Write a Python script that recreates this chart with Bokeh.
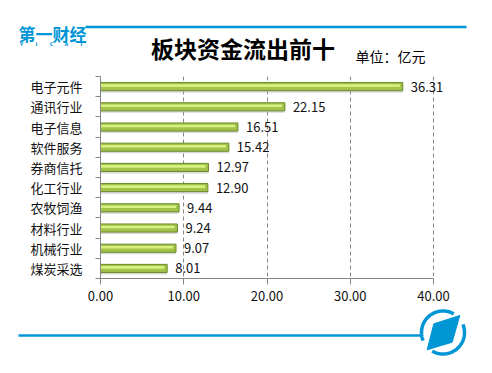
import numpy as np
from bokeh.plotting import figure
from bokeh.models import Range1d, FixedTicker, NumeralTickFormatter, ColumnDataSource
from bokeh.layouts import column
from bokeh.core.properties import value
from bokeh.embed import file_html
from bokeh.resources import INLINE

# ---- data ----
categories = ["电子元件", "通讯行业", "电子信息", "软件服务", "券商信托",
              "化工行业", "农牧饲渔", "材料行业", "机械行业", "煤炭采选"]
outflow = [36.31, 22.15, 16.51, 15.42, 12.97, 12.90, 9.44, 9.24, 9.07, 8.01]
x_ticks = [0, 10, 20, 30, 40]
title_text = "板块资金流出前十"
unit_text = "单位：亿元"
logo_text = "第一财经"
logo_letters = ["Y", "I", "C", "A", "I"]

FONT = "Noto Sans CJK SC"
BLUE = "#0096d6"
GREY = "#868686"
W = 484

# ---- header (page coordinates) ----
hdr = figure(width=W, height=73, x_range=Range1d(0, W), y_range=Range1d(73, 0),
             output_backend="svg", toolbar_location=None, min_border=0,
             x_axis_location=None, y_axis_location=None, frame_align=False)
hdr.outline_line_color = None
hdr.grid.visible = False
hdr.line([85, 466], [26.5, 26.5], line_color=BLUE, line_width=2.5)
hdr.text(x=[18], y=[33], text=[logo_text], text_font=value(FONT), text_font_size="17px",
         text_font_style="bold", text_color=BLUE, text_baseline="middle", text_align="left")
hdr.text(x=[21, 36, 51, 66, 81], y=[43.5] * 5, text=logo_letters,
         text_font=value("DejaVu Sans"), text_font_size="5px", text_font_style="bold",
         text_color=BLUE, text_baseline="middle", text_align="center")
hdr.text(x=[242.5], y=[47], text=[title_text], text_font=value(FONT), text_font_size="23px",
         text_font_style="bold", text_color="#000000", text_baseline="middle", text_align="center")
hdr.text(x=[355], y=[55.5], text=[unit_text], text_font=value(FONT), text_font_size="14px",
         text_color="#000000", text_baseline="middle", text_align="left")

# ---- main chart ----
n = len(categories)
ypos = [i + 0.5 for i in range(n)]
src = ColumnDataSource(dict(
    y=ypos, v=outflow, lab=["%.2f" % v for v in outflow],
    ys=[y + 0.09 for y in ypos],
    yh=[y - 0.05 for y in ypos],
    vh=[v - 0.35 for v in outflow],
))

left_border = 100
axis_px = 333.0           # pixels from 0 to 40
frame_px = W - left_border
x_end = x_ticks[-1] * frame_px / axis_px

p = figure(width=W, height=235, x_range=Range1d(0, x_end), y_range=Range1d(n, 0),
           output_backend="svg", toolbar_location=None, frame_align=False,
           min_border_left=left_border, min_border_right=0, min_border_top=3,
           min_border_bottom=30)
p.outline_line_color = None
p.ygrid.visible = False

p.hbar(y="ys", left=0, right="v", height=0.42, source=src,
       fill_color="#b9b9b9", fill_alpha=0.55, line_color=None)
p.hbar(y="y", left=0, right="v", height=0.4, source=src,
       fill_color="#a2c24a", line_color="#6b8a2a", line_width=1)
p.hbar(y="yh", left=0.05, right="vh", height=0.13, source=src,
       fill_color="#d8f080", line_color=None)

p.text(x="v", y="y", text="lab", source=src, x_offset=8, text_font=value(FONT),
       text_font_size="13px", text_color="#111111", text_baseline="middle", text_align="left")

# x axis
p.xaxis.ticker = FixedTicker(ticks=x_ticks)
p.xaxis.bounds = (x_ticks[0], x_ticks[-1])
p.xaxis.formatter = NumeralTickFormatter(format="0.00")
p.xaxis.axis_line_color = GREY
p.xaxis.major_tick_line_color = GREY
p.xaxis.major_tick_out = 6
p.xaxis.major_tick_in = 0
p.xaxis.minor_tick_line_color = None
p.xaxis.major_label_standoff = 6
p.xaxis.major_label_text_font = FONT
p.xaxis.major_label_text_font_size = "13px"
p.xaxis.major_label_text_color = "#111111"
p.xgrid.ticker = FixedTicker(ticks=x_ticks[1:])
p.xgrid.grid_line_color = GREY
p.xgrid.grid_line_dash = "4 3"
p.xgrid.grid_line_width = 1

# y axis: labels at centres, small ticks at boundaries
p.yaxis.ticker = FixedTicker(ticks=ypos, minor_ticks=list(range(n + 1)))
p.yaxis.major_label_overrides = {y: c for y, c in zip(ypos, categories)}
p.yaxis.axis_line_color = GREY
p.yaxis.major_tick_line_color = None
p.yaxis.major_tick_out = 0
p.yaxis.major_tick_in = 0
p.yaxis.minor_tick_line_color = GREY
p.yaxis.minor_tick_out = 5
p.yaxis.minor_tick_in = 0
p.yaxis.major_label_standoff = 13
p.yaxis.major_label_text_font = FONT
p.yaxis.major_label_text_font_size = "13px"
p.yaxis.major_label_text_color = "#111111"

# ---- footer (page coordinates) ----
ftr = figure(width=W, height=57, x_range=Range1d(0, W), y_range=Range1d(365, 308),
             output_backend="svg", toolbar_location=None, min_border=0,
             x_axis_location=None, y_axis_location=None, frame_align=False)
ftr.outline_line_color = None
ftr.grid.visible = False
ftr.line([18, 420], [335, 335], line_color=BLUE, line_width=2.5)
cx, cy, r = 442.5, 332.0, 21.5
for a0, a1 in [(60, 202), (240, 382)]:
    t = np.radians(np.linspace(a0, a1, 60))
    ftr.line(cx + r * np.cos(t), cy - r * np.sin(t), line_color=BLUE, line_width=3.5)
ftr.patch([433.3, 459.3, 451.7, 426.7], [323.3, 315.0, 341.7, 349.3],
          fill_color=BLUE, line_color=BLUE, line_width=1)

layout = column(hdr, p, ftr, spacing=0)
open("out.html", "w").write(file_html(layout, INLINE))
